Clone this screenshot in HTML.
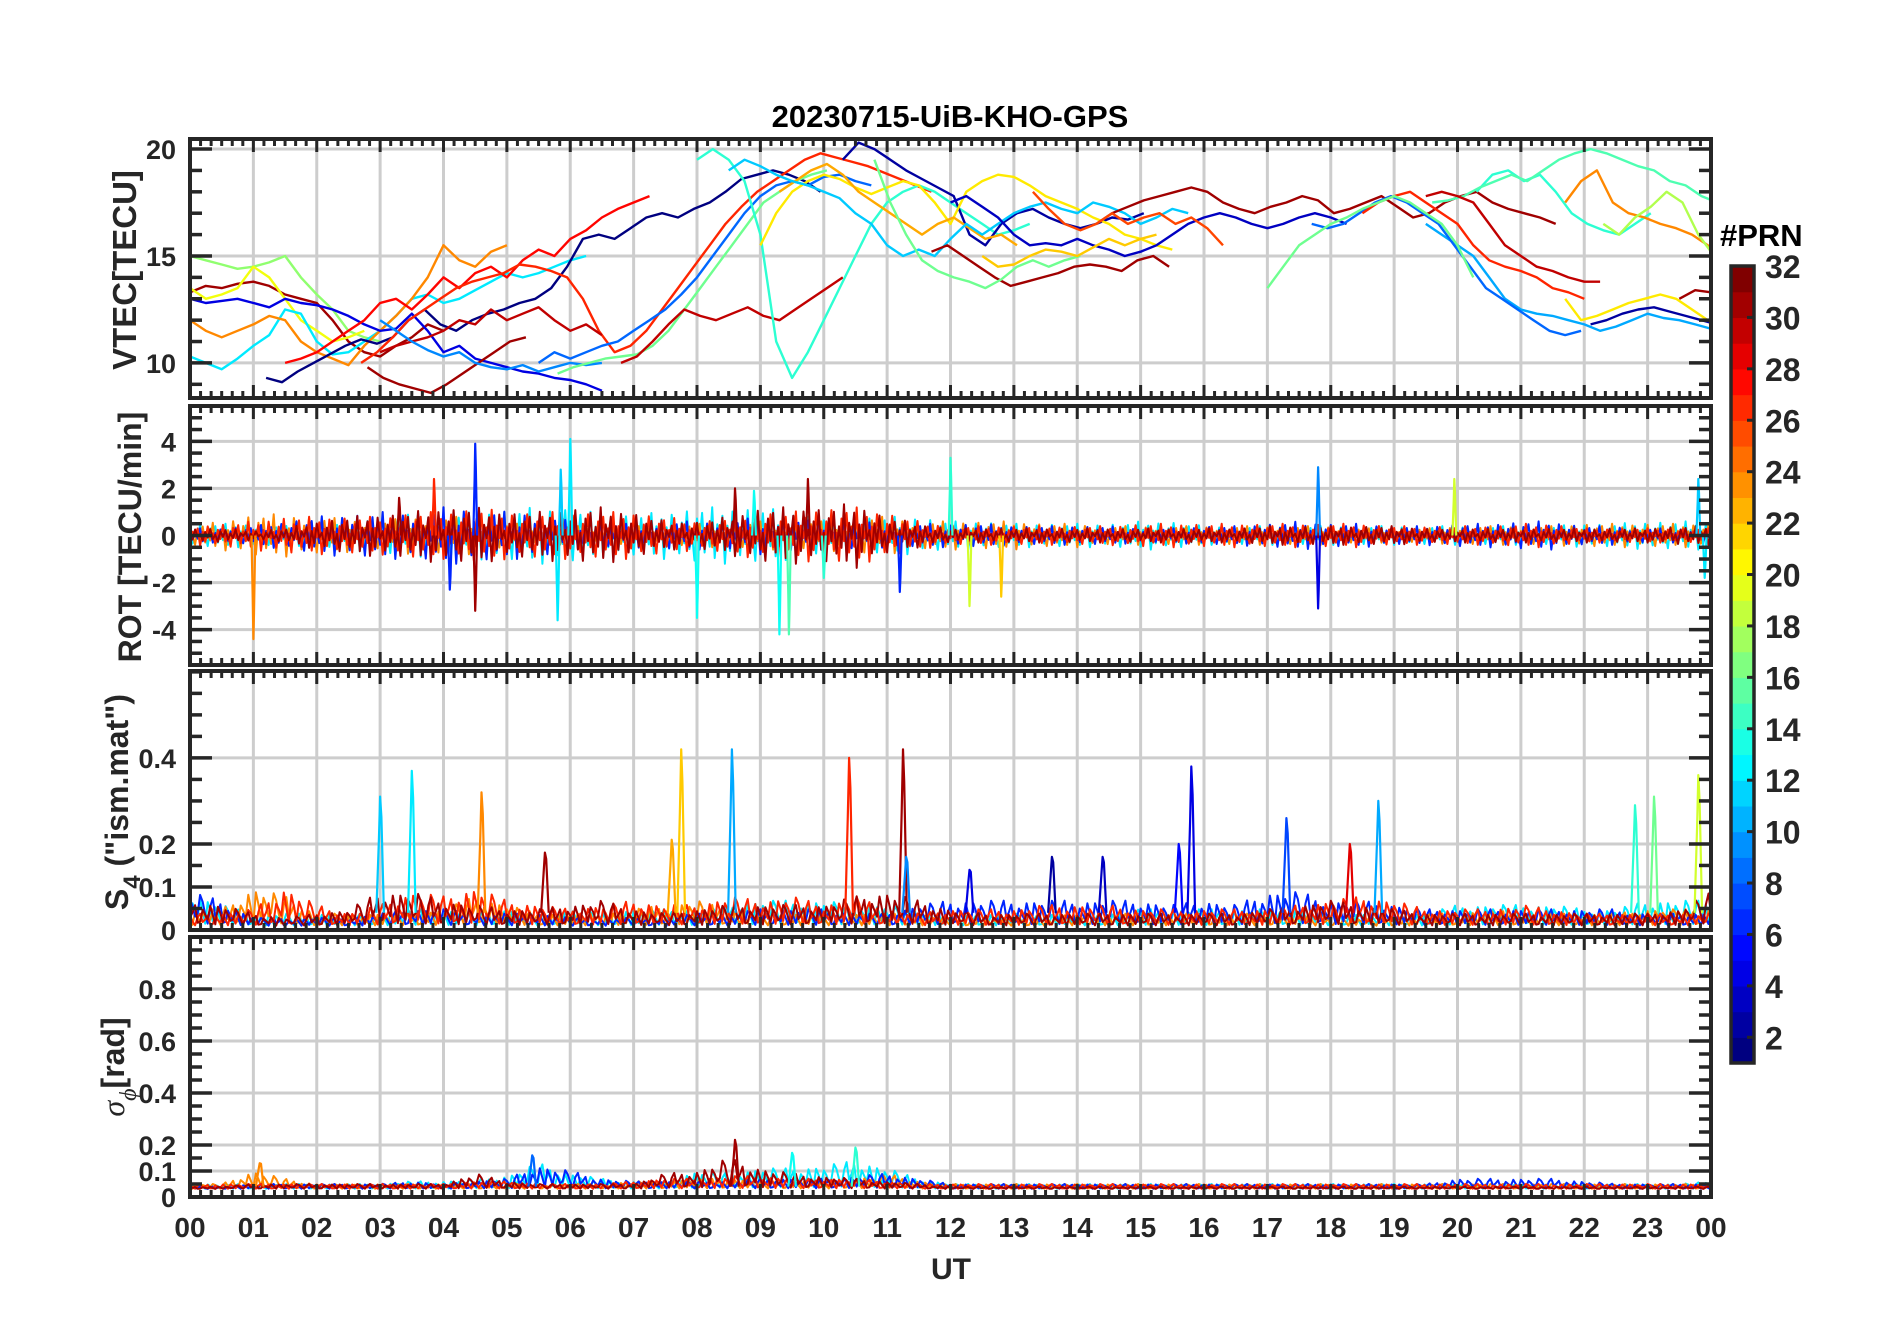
<!DOCTYPE html>
<html><head><meta charset="utf-8"><style>
body{margin:0;background:#fff}
svg{display:block;font-family:"Liberation Sans",sans-serif}
</style></head><body>
<svg id="fig" width="1902" height="1330" viewBox="0 0 1902 1330" xmlns="http://www.w3.org/2000/svg">
<rect width="1902" height="1330" fill="#fff"/>
<text x="950" y="127" text-anchor="middle" font-size="31" font-weight="bold" fill="#000">20230715-UiB-KHO-GPS</text>
<g id="panels"></g>
<text x="951" y="1279" text-anchor="middle" font-size="30" font-weight="bold" fill="#262626">UT</text>
<text transform="translate(136,270) rotate(-90)" text-anchor="middle" font-size="33" font-weight="bold" fill="#262626">VTEC[TECU]</text>
<text transform="translate(141,537) rotate(-90)" text-anchor="middle" font-size="32" font-weight="bold" fill="#262626">ROT [TECU/min]</text>
<text transform="translate(128,802) rotate(-90)" text-anchor="middle" font-size="32" font-weight="bold" fill="#262626">S<tspan font-size="24" dy="12">4</tspan><tspan dy="-12"> ("ism.mat")</tspan></text>
<text transform="translate(124,1067) rotate(-90)" text-anchor="middle" font-size="32" font-weight="bold" fill="#262626"><tspan font-family="Liberation Serif" font-style="italic" font-weight="normal">σ</tspan><tspan font-family="Liberation Serif" font-style="italic" font-weight="normal" font-size="24" dy="12">ϕ</tspan><tspan dy="-12">[rad]</tspan></text>
<g id="cbar"></g>
<text x="1720" y="246" font-size="31" font-weight="bold" fill="#000">#PRN</text>
</svg>
<script>
// ---------- DATA ----------
const hourTicks = ["00","01","02","03","04","05","06","07","08","09","10","11","12","13","14","15","16","17","18","19","20","21","22","23","00"];
const vtecTicks = [10,15,20];
const rotTicks = [-4,-2,0,2,4];
const s4Ticks = [0,0.1,0.2,0.4];
const phiTicks = [0,0.1,0.2,0.4,0.6,0.8];
const prnTicks = [2,4,6,8,10,12,14,16,18,20,22,24,26,28,30,32];

// VTEC tracks: PRN, start hour, values every 0.25 h
const vtecPrn = [31,17,20,12,24,4,1,28,27,30,31,9,16,8,30,14,2,21,23,11,31,16,3,31,26,14,15,24,21,10,8,2,31,27,30,16,18,22];
const vtecStart = [0,0,0,0,0,0,1.2,1.5,2.7,3,2.8,3,5.8,5.5,6.8,8,10.3,9,9.3,8.5,11.7,10.8,12,14.3,13.3,20.3,19.6,21.7,21.7,19.5,17.7,22.1,23.5,18.5,19.5,17,22.3,12.5];
const vtecValues = [
 [13.3,13.6,13.5,13.7,13.8,13.6,13.2,13.0,12.8,12.0,11.0,10.5,10.3,10.8,11.2,11.8,11.5],
 [15.0,14.8,14.6,14.4,14.5,14.7,15.0,14.0,13.2,12.5,11.5,11.2,11.0],
 [13.5,13.0,13.2,13.5,14.5,14.0,13.0,12.0,11.5,11.0,11.2,11.5],
 [10.3,10.0,9.7,10.2,10.8,11.3,12.5,12.3,11.0,10.4,10.5,11.0,11.5,12.2,13.0,13.2,12.8,13.0,13.4,13.8,14.2,14.0,14.2,14.5,14.8,15.0],
 [12.0,11.5,11.2,11.5,11.8,12.2,12.0,11.0,10.5,10.2,9.9,10.8,11.5,12.2,13.0,14.0,15.5,14.8,14.5,15.2,15.5],
 [13.0,12.8,12.9,13.0,12.8,12.6,13.0,12.8,12.7,12.5,12.2,11.8,11.5,11.6,12.3,11.5,10.5,10.8,10.2,10.0,9.8,9.6,9.5,9.3,9.2,9.0,8.7],
 [9.3,9.1,9.6,10.0,10.4,10.8,11.1,10.9,11.2,12.0,12.5,11.8,11.5,12.0,12.3,12.5,12.8,13.0,13.5,14.5,15.8,16.0,15.8,16.3,16.8,17.0,16.8,17.2,17.5,18.0,18.6,18.8,19.0,18.8,18.5,18.0],
 [10.0,10.2,10.5,11.0,11.5,12.0,12.8,13.0,12.5,13.2,14.0,13.5,14.2,14.5,14.0,14.8,15.3,15.0,15.8,16.2,16.8,17.2,17.5,17.8],
 [10.0,10.5,11.2,12.0,12.5,13.0,13.5,13.8,14.0,14.2,14.6,14.5,14.3,14.0,13.0,11.5,10.5,10.8,11.5,12.5,13.5,14.5,15.5,16.5,17.3,18.0,18.5,19.0,19.5,19.8,19.6,19.4,19.2,18.9,18.6,18.3,18.0],
 [10.5,10.8,11.0,11.2,11.5,12.0,11.8,12.5,12.0,12.3,12.6,12.0,11.5,11.8,11.3],
 [9.8,9.3,9.0,8.8,8.6,9.0,9.5,10.0,10.5,11.0,11.2],
 [12.0,11.5,11.0,10.6,10.3,10.5,10.0,9.8,9.7,9.9,9.6,9.8,10.0,9.9,10.0],
 [9.5,9.8,10.0,10.2,10.3,10.4,10.8,11.5,12.5,13.5,14.5,15.5,16.5,17.5,18.0,18.5,18.8,19.0],
 [10.0,10.5,10.2,10.5,10.8,11.0,11.5,12.0,12.5,13.2,14.0,15.0,16.0,17.0,17.8,18.3,18.5,18.3,18.7,18.8,18.5,18.3],
 [10.0,10.3,11.0,11.8,12.5,12.2,12.0,12.3,12.6,12.2,12.0,12.5,13.0,13.5,14.0],
 [19.5,20.0,19.5,18.5,16.0,11.0,9.3,10.5,12.0,13.5,15.0,16.5,17.5,18.0,18.3,18.0,17.5,17.0,16.5,16.0,16.2,16.5],
 [19.5,20.3,20.0,19.5,19.0,18.6,18.2,17.8,16.0,15.5,16.5,17.0,17.2,16.8,16.5,16.3,16.5,16.8,16.7,17.0],
 [15.5,17.0,18.0,18.5,18.8,18.6,18.2,17.9,18.2,18.5,18.3,17.5,16.5,18.0,18.5,18.8,18.7,18.3,17.8,17.5,17.2,16.8,16.5,16.0,15.8,15.5,15.3],
 [18.0,18.5,19.0,19.3,18.8,18.0,17.5,17.0,16.5,16.0,16.5,16.8,16.3,15.8,16.0,15.5],
 [19.0,19.5,19.2,18.8,18.5,18.3,18.0,17.7,17.0,16.5,15.5,15.0,15.3,15.0,15.8,16.5,16.0,16.5,17.0,17.3,17.5,17.2,17.0,17.5,17.3,17.0,16.5,16.8,17.2,17.0],
 [15.2,15.5,15.0,14.5,14.0,13.6,13.8,14.0,14.2,14.5,14.6,14.5,14.3,14.8,15.0,14.5],
 [19.5,17.5,16.0,14.8,14.3,14.0,13.8,13.5,13.9,14.5,14.8,14.5,14.8,15.0],
 [17.5,17.8,17.3,16.8,16.0,15.5,15.6,15.5,15.8,15.5,15.3,15.0,15.2,15.5,16.0,16.5,16.8,17.0,16.8,16.5,16.3,16.5,16.8,17.0,16.8,16.5],
 [16.5,17.0,17.3,17.6,17.8,18.0,18.2,18.0,17.5,17.2,17.0,17.3,17.5,17.8,17.6,17.0,17.2,17.5,17.8,17.3,16.8,17.0,17.5,17.8,18.0,17.5,17.2,17.0,16.8,16.5],
 [18.0,17.2,16.5,16.2,16.5,17.0,16.5,16.8,17.0,16.5,16.8,16.3,15.5],
 [18.0,18.8,19.0,18.5,18.8,18.0,17.0,16.5,16.2,16.0,16.5,17.0],
 [17.5,17.6,17.8,18.2,18.5,18.8,18.5,19.0,19.5,19.8,20.0,19.8,19.5,19.2,19.0,18.5,18.3,17.8,17.5,17.3,18.0,18.2,16.0,14.0,13.5],
 [17.5,18.5,19.0,17.5,17.0,16.8,16.5,16.3,16.0,15.5,14.5,13.5,13.0,13.3],
 [13.0,12.0,12.2,12.5,12.8,13.0,13.2,13.0,12.5,12.0],
 [16.5,16.0,15.5,15.0,14.0,13.0,12.5,12.3,12.2,12.0,11.8,11.5,11.7,12.0,12.3,12.1,12.0,11.8,11.6],
 [16.5,16.3,16.5,17.0,17.5,17.8,17.5,17.0,16.5,15.5,14.5,13.5,13.0,12.5,12.0,11.5,11.3,11.5],
 [11.8,12.0,12.3,12.5,12.6,12.4,12.2,12.0,11.8],
 [13.0,13.4,13.3],
 [17.0,17.5,17.8,18.0,17.5,17.0,16.5,15.5,14.8,14.5,14.3,14.0,13.5,13.3,13.0],
 [17.8,18.0,17.8,17.5,16.5,15.5,15.0,14.5,14.3,14.0,13.8,13.8],
 [13.5,14.5,15.5,16.0,16.5,16.8,17.2,17.5,17.8,17.5,17.0,16.5,15.5,14.0],
 [16.5,16.0,16.8,17.3,18.0,17.5,16.0,15.0,15.5],
 [15.0,14.5,14.6,15.0,15.3,15.2,15.0,15.4,15.8,15.5,15.8,16.0]
];

// Noise band amplitudes per half hour (0..24) for ROT, S4 and sigma-phi series
const bandPrn = [12,24,6,27,31];
const rotAmp = [
 [0.5,0.5,0.5,0.4,0.5,0.6,0.8,0.9,0.9,1.0,1.1,1.2,1.2,0.9,0.9,1.0,1.2,1.2,1.2,1.0,0.8,0.8,0.8,0.8,0.6,0.6,0.5,0.5,0.5,0.5,0.6,0.6,0.4,0.4,0.4,0.4,0.4,0.4,0.4,0.4,0.4,0.4,0.4,0.4,0.5,0.5,0.6,0.6,0.6],
 [0.4,0.6,0.9,0.9,0.8,0.7,0.6,0.8,0.8,0.8,0.5,0.5,0.4,0.4,0.4,0.4,0.5,0.5,0.6,0.6,0.6,0.8,0.8,0.6,0.6,0.6,0.6,0.5,0.5,0.4,0.4,0.4,0.4,0.4,0.4,0.4,0.4,0.3,0.3,0.3,0.4,0.4,0.4,0.4,0.5,0.5,0.5,0.5,0.5],
 [0.3,0.3,0.4,0.6,0.8,0.9,1.0,1.0,1.2,1.2,1.0,1.0,0.6,0.5,0.5,0.6,0.6,0.6,0.8,0.7,0.6,0.6,0.5,0.5,0.5,0.5,0.4,0.4,0.4,0.4,0.3,0.3,0.4,0.4,0.5,0.6,0.5,0.5,0.4,0.4,0.5,0.5,0.6,0.6,0.4,0.4,0.3,0.3,0.3],
 [0.4,0.5,0.6,0.8,0.8,0.8,0.8,1.0,1.0,1.2,1.0,1.0,1.0,1.0,1.0,0.8,0.6,0.8,1.0,1.0,1.2,1.2,1.0,0.6,0.4,0.4,0.4,0.4,0.4,0.4,0.5,0.5,0.5,0.5,0.5,0.5,0.5,0.5,0.4,0.4,0.4,0.4,0.5,0.5,0.3,0.3,0.3,0.3,0.3],
 [0.3,0.3,0.2,0.3,0.6,0.8,0.9,1.0,1.2,1.2,1.0,1.0,1.2,1.2,1.0,0.6,0.6,0.8,1.2,1.2,1.2,1.4,0.8,0.5,0.3,0.3,0.3,0.3,0.3,0.3,0.3,0.3,0.3,0.3,0.4,0.4,0.4,0.4,0.4,0.3,0.3,0.3,0.3,0.3,0.3,0.3,0.3,0.4,0.4]
];
const s4Amp = [
 [0.08,0.05,0.03,0.03,0.03,0.03,0.03,0.04,0.04,0.03,0.04,0.03,0.04,0.03,0.04,0.04,0.04,0.05,0.06,0.06,0.06,0.05,0.05,0.04,0.03,0.03,0.03,0.03,0.03,0.03,0.04,0.04,0.04,0.04,0.04,0.04,0.03,0.03,0.03,0.03,0.05,0.05,0.05,0.05,0.04,0.04,0.06,0.06,0.06],
 [0.04,0.04,0.09,0.07,0.03,0.03,0.03,0.03,0.04,0.07,0.05,0.03,0.03,0.03,0.04,0.05,0.06,0.04,0.03,0.03,0.03,0.03,0.03,0.03,0.02,0.02,0.02,0.02,0.03,0.03,0.03,0.03,0.03,0.03,0.03,0.03,0.02,0.02,0.02,0.03,0.03,0.04,0.03,0.03,0.03,0.03,0.04,0.04,0.04],
 [0.08,0.06,0.02,0.02,0.02,0.02,0.03,0.04,0.04,0.03,0.03,0.03,0.02,0.02,0.02,0.02,0.03,0.03,0.04,0.04,0.04,0.03,0.03,0.05,0.06,0.06,0.06,0.06,0.06,0.06,0.06,0.05,0.06,0.05,0.08,0.08,0.06,0.06,0.05,0.04,0.04,0.04,0.04,0.04,0.04,0.04,0.03,0.03,0.03],
 [0.03,0.03,0.04,0.09,0.05,0.03,0.05,0.08,0.07,0.09,0.06,0.05,0.04,0.05,0.06,0.05,0.05,0.07,0.06,0.07,0.05,0.07,0.04,0.03,0.04,0.04,0.04,0.05,0.05,0.05,0.04,0.04,0.04,0.04,0.04,0.05,0.06,0.07,0.06,0.04,0.04,0.04,0.05,0.04,0.03,0.03,0.03,0.03,0.03],
 [0.06,0.05,0.03,0.02,0.03,0.04,0.08,0.08,0.06,0.05,0.04,0.04,0.05,0.06,0.04,0.03,0.04,0.05,0.05,0.05,0.05,0.07,0.08,0.06,0.04,0.03,0.03,0.03,0.03,0.03,0.03,0.03,0.03,0.03,0.04,0.05,0.06,0.05,0.04,0.03,0.03,0.03,0.03,0.03,0.03,0.03,0.03,0.04,0.08]
];
const phiAmp = [
 [0.02,0.02,0.02,0.02,0.02,0.02,0.02,0.03,0.03,0.04,0.05,0.10,0.06,0.04,0.03,0.03,0.07,0.06,0.08,0.08,0.09,0.11,0.08,0.04,0.02,0.02,0.02,0.02,0.02,0.02,0.02,0.02,0.02,0.02,0.02,0.02,0.02,0.02,0.02,0.02,0.02,0.02,0.02,0.02,0.02,0.02,0.02,0.02,0.03],
 [0.02,0.02,0.07,0.04,0.02,0.02,0.02,0.02,0.02,0.02,0.02,0.02,0.02,0.02,0.03,0.03,0.04,0.04,0.03,0.03,0.03,0.04,0.06,0.03,0.02,0.02,0.02,0.02,0.02,0.02,0.02,0.02,0.02,0.02,0.02,0.02,0.02,0.02,0.02,0.02,0.02,0.02,0.02,0.02,0.02,0.02,0.02,0.02,0.02],
 [0.01,0.01,0.02,0.02,0.02,0.02,0.02,0.03,0.02,0.03,0.04,0.09,0.07,0.04,0.03,0.03,0.03,0.03,0.04,0.04,0.04,0.05,0.06,0.04,0.02,0.02,0.02,0.02,0.02,0.02,0.02,0.02,0.02,0.02,0.02,0.02,0.02,0.02,0.02,0.02,0.04,0.04,0.04,0.04,0.03,0.02,0.02,0.02,0.02],
 [0.02,0.02,0.02,0.02,0.02,0.02,0.02,0.02,0.02,0.03,0.03,0.02,0.02,0.02,0.03,0.04,0.04,0.05,0.05,0.04,0.04,0.04,0.03,0.02,0.02,0.02,0.02,0.02,0.02,0.02,0.02,0.02,0.02,0.02,0.02,0.02,0.02,0.02,0.02,0.02,0.02,0.02,0.02,0.02,0.02,0.02,0.02,0.02,0.02],
 [0.01,0.01,0.02,0.02,0.02,0.02,0.02,0.02,0.02,0.06,0.03,0.02,0.02,0.02,0.02,0.06,0.07,0.12,0.08,0.06,0.05,0.04,0.03,0.02,0.01,0.01,0.01,0.01,0.01,0.01,0.01,0.01,0.01,0.01,0.01,0.01,0.01,0.01,0.01,0.01,0.01,0.01,0.01,0.01,0.01,0.01,0.01,0.01,0.01]
];

// Spikes: hour, peak value, PRN
const rotSpikeHour = [1.0,4.5,4.5,6.0,5.8,5.85,3.85,8.0,9.3,9.45,8.6,9.75,12.0,12.3,11.2,17.8,17.8,19.95,23.8,23.9,12.8,4.1,8.9,3.3,10.0];
const rotSpikeValue = [-4.4,3.9,-3.2,4.1,-3.6,2.8,2.4,-3.5,-4.2,-4.2,2.0,2.4,3.3,-3.0,-2.4,2.9,-3.1,2.4,2.4,-1.8,-2.6,-2.3,1.9,1.6,-1.8];
const rotSpikePrn = [24,6,31,12,12,11,27,13,13,15,31,31,14,19,6,9,4,19,11,12,22,6,13,31,14];
const s4SpikeHour = [3.0,3.5,4.6,5.6,7.75,8.55,10.4,11.25,11.3,12.3,15.8,15.6,17.3,18.75,18.3,22.8,23.1,23.8,13.6,14.4,7.6];
const s4SpikeValue = [0.31,0.37,0.32,0.18,0.42,0.42,0.40,0.42,0.17,0.14,0.38,0.20,0.26,0.30,0.20,0.29,0.31,0.36,0.17,0.17,0.21];
const s4SpikePrn = [11,12,24,31,22,10,27,31,9,4,4,5,7,10,29,14,16,19,2,3,23];
const phiSpikeHour = [1.1,5.4,8.6,10.5,9.5];
const phiSpikeValue = [0.13,0.16,0.22,0.19,0.17];
const phiSpikePrn = [24,8,31,14,13];

// ---------- RENDERING ----------
const NS = "http://www.w3.org/2000/svg";
const X0 = 190, X1 = 1711;
const xs = h => X0 + (X1 - X0) * h / 24;
const panels = [
 {name:"vtec", y0:139, y1:398, min:8.36, max:20.47, ticks:vtecTicks, minor:1},
 {name:"rot", y0:406, y1:665, min:-5.5, max:5.5, ticks:rotTicks, minor:0.5},
 {name:"s4", y0:671, y1:930, min:0, max:0.602, ticks:s4Ticks, minor:0.05},
 {name:"sigma-phi", y0:937, y1:1197, min:0, max:1, ticks:phiTicks, minor:0.05}
];
const ys = (p, v) => p.y1 - (p.y1 - p.y0) * (v - p.min) / (p.max - p.min);
function jet(t){const c=x=>Math.round(255*Math.max(0,Math.min(1,x)));return `rgb(${c(1.5-Math.abs(4*t-3))},${c(1.5-Math.abs(4*t-2))},${c(1.5-Math.abs(4*t-1))})`;}
const prnColor = p => jet((p-1)/31);
function el(tag, attrs, parent){const e=document.createElementNS(NS,tag);for(const k in attrs)e.setAttribute(k,attrs[k]);parent.appendChild(e);return e;}
const pattern = [0.2,-0.7,0.5,-0.3,0.9,-0.5,0.1,-0.9,0.6,-0.2,0.8,-0.6,0.3,-0.4,1,-0.8,0.4,-0.1,0.7,-1,0.35,-0.55,0.85,-0.15];
const ampAt = (arr,h) => {const i=Math.min(47,Math.floor(h/0.5));const f=h/0.5-i;return arr[i]*(1-f)+arr[i+1]*f;};

const root = document.getElementById("panels");
const defs = el("defs",{},root);
panels.forEach((p,pi)=>{
  const cp = el("clipPath",{id:"clip"+pi},defs);
  el("rect",{x:X0,y:p.y0,width:X1-X0,height:p.y1-p.y0},cp);
  const g = el("g",{},root);
  
  
  const grid = el("g",{stroke:"#cdcdcd","stroke-width":3},g);
  
  
  for(let h=1;h<24;h++) el("line",{x1:xs(h),x2:xs(h),y1:p.y0,y2:p.y1},grid);
  p.ticks.forEach(v=>{ if(v>p.min && v<p.max) el("line",{x1:X0,x2:X1,y1:ys(p,v),y2:ys(p,v)},grid); });
  const dl = el("g",{"clip-path":`url(#clip${pi})`,fill:"none","stroke-linejoin":"round"},g);
  
  
  if(pi===0){
    vtecValues.forEach((vals,i)=>{
      const pts = vals.map((v,k)=>`${xs(vtecStart[i]+k*0.25).toFixed(1)},${ys(p,v).toFixed(1)}`).join(" ");
      const pl = el("polyline",{points:pts,stroke:prnColor(vtecPrn[i]),"stroke-width":2.4},dl);
      
      
    });
  } else {
    const amps = pi===1?rotAmp:(pi===2?s4Amp:phiAmp);
    amps.forEach((arr,si)=>{
      const pts=[];
      for(let k=0;k<=600;k++){
        const h=k*0.04; const a=ampAt(arr,h); const pv=pattern[(k+si*5)%pattern.length];
        let v;
        if(pi===1) v=a*pv; else if(pi===2) v=0.008+a*Math.abs(pv); else v=0.03+a*Math.abs(pv);
        pts.push(`${xs(h).toFixed(1)},${ys(p,v).toFixed(1)}`);
      }
      const pl = el("polyline",{points:pts.join(" "),stroke:prnColor(bandPrn[si]),"stroke-width":2},dl);
      
      
    });
    const sh = pi===1?rotSpikeHour:(pi===2?s4SpikeHour:phiSpikeHour);
    const sv = pi===1?rotSpikeValue:(pi===2?s4SpikeValue:phiSpikeValue);
    const sp = pi===1?rotSpikePrn:(pi===2?s4SpikePrn:phiSpikePrn);
    sh.forEach((h,i)=>{
      const base = pi===1?0:0.04;
      const w = pi===1?0.03:0.06;
      const pts=[[h-w,base],[h-w/3,(base+sv[i])*0.6],[h,sv[i]],[h+w/3,(base+sv[i])*0.75],[h+w,base]]
        .map(q=>`${xs(q[0]).toFixed(1)},${ys(p,q[1]).toFixed(1)}`).join(" ");
      const pl = el("polyline",{points:pts,stroke:prnColor(sp[i]),"stroke-width":2.2},dl);
      
      
    });
  }
  const ax = el("g",{stroke:"#262626",fill:"none"},g);
  
  
  for(let m=0;m<=144;m++){
    const x=xs(m/6); const L=(m%6===0)?13:7;
    el("line",{x1:x,x2:x,y1:p.y1,y2:p.y1-L,"stroke-width":3},ax);
    el("line",{x1:x,x2:x,y1:p.y0,y2:p.y0+L,"stroke-width":3},ax);
  }
  const nMin = Math.ceil(p.min/p.minor-1e-9), nMax=Math.floor(p.max/p.minor+1e-9);
  for(let n=nMin;n<=nMax;n++){
    const v=n*p.minor; const y=ys(p,v);
    const major = p.ticks.some(t=>Math.abs(t-v)<1e-9);
    const L = major?22:12;
    el("line",{x1:X0,x2:X0+L,y1:y,y2:y,"stroke-width":3.5},ax);
    el("line",{x1:X1,x2:X1-L,y1:y,y2:y,"stroke-width":3.5},ax);
  }
  el("rect",{x:X0,y:p.y0,width:X1-X0,height:p.y1-p.y0,"stroke-width":4},ax);
  p.ticks.forEach(v=>{
    const t = el("text",{x:176,y:ys(p,v)+10,"text-anchor":"end","font-size":27,"font-weight":"bold",fill:"#262626"},g);
    
    
    t.textContent = String(v);
  });
});
hourTicks.forEach((lab,i)=>{
  const t = el("text",{x:xs(i),y:1237,"text-anchor":"middle","font-size":28,"font-weight":"bold",fill:"#262626"},root);
  
  
  t.textContent = lab;
});
const cb = document.getElementById("cbar");


const CB0=266, CB1=1063, CBX=1731, CBW=23;
const cy = v => CB0 + (32 - v) * (CB1 - CB0) / 31;
for(let i=0;i<31;i++){
  const r = el("rect",{x:CBX,y:cy(i+2),width:CBW,height:(CB1-CB0)/31+0.6,fill:jet(i/30)},cb);
  
  
}
el("rect",{x:CBX,y:CB0,width:CBW,height:CB1-CB0,fill:"none",stroke:"#262626","stroke-width":3.5},cb);
prnTicks.forEach(v=>{
  el("line",{x1:CBX+CBW-7,x2:CBX+CBW,y1:cy(v),y2:cy(v),stroke:"#262626","stroke-width":3},cb);
  const t = el("text",{x:1765,y:cy(v)+12,"font-size":32,"font-weight":"bold",fill:"#262626"},cb);
  
  
  t.textContent = String(v);
});
</script>
</body></html>
